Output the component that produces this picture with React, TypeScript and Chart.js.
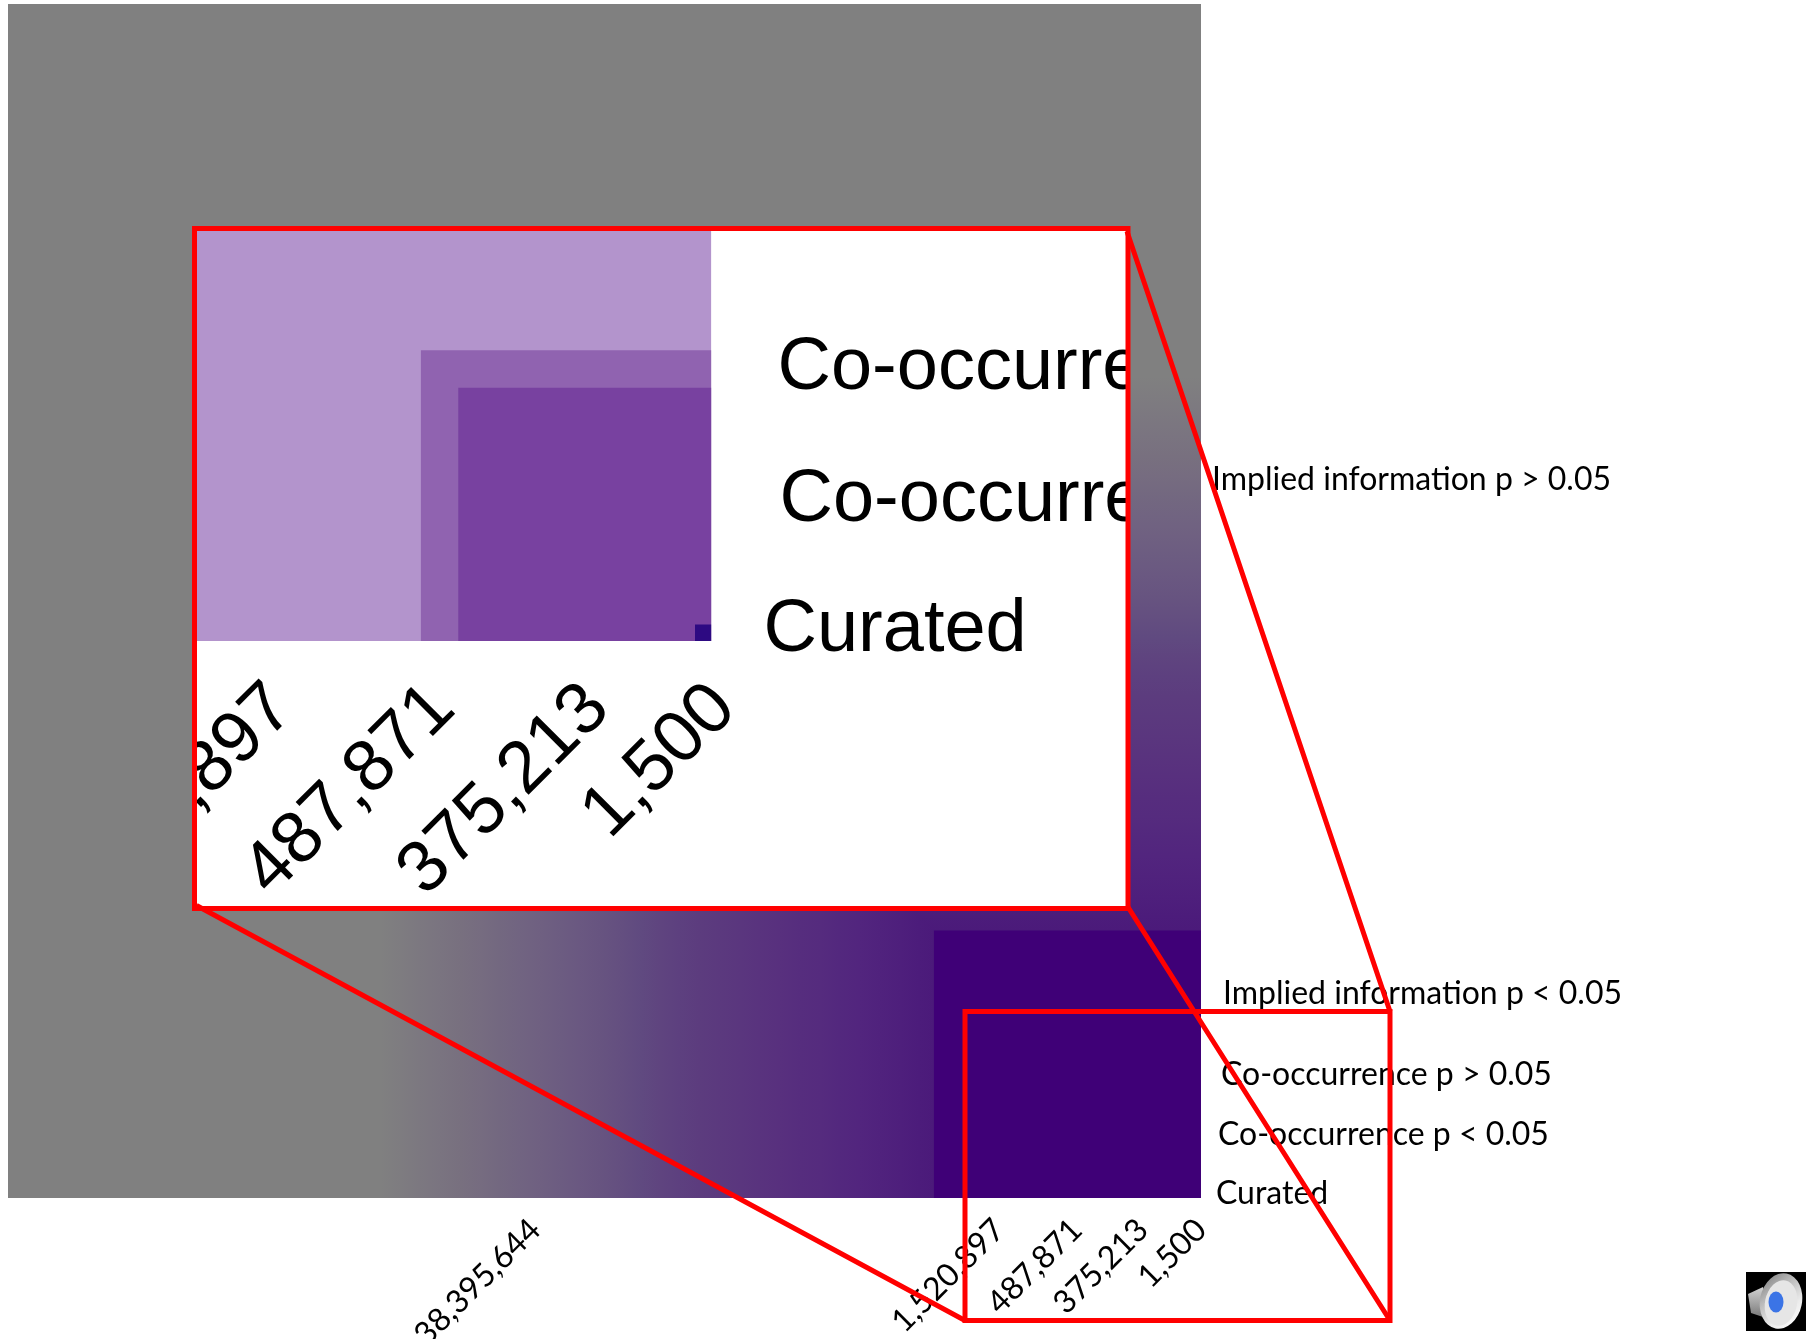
import React, { useEffect, useRef } from "react";
import { Chart, registerables } from "chart.js";

Chart.register(...registerables);

// ---------- data (square side, % of the main plot's side) ----------
const outerSide = 100;
const outerColor = "#808080";
const fadeSides = [68.8, 67.1, 65.5, 63.8, 62.1, 60.4, 58.8, 57.1, 55.4, 53.7, 52.1, 50.4, 48.7, 47.0, 45.3, 43.7, 42.0, 40.3, 38.6, 37.0, 35.3, 33.6, 31.9, 30.3, 28.6, 26.9, 25.2, 23.6, 22.4];
const fadeColors = ["#808080", "#7e7c80", "#7c7880", "#7a7480", "#78707f", "#766c80", "#736880", "#716481", "#6f6081", "#6c5c81", "#6a5881", "#675480", "#644f80", "#604a80", "#5f447f", "#5d407f", "#5c3c7e", "#5b397e", "#5a367e", "#59337e", "#58307e", "#562d7e", "#552b7e", "#53287e", "#52257e", "#50227d", "#4e1f7c", "#4c1c7b", "#4b1a7a"];
const coreSide = 22.4;
const coreColor = "#3f0077";
const insetSides = [22.4, 11.1, 9.67, 0.63];
const insetColors = ["#b394cc", "#9063b0", "#7841a0", "#2d0a82"];

const xLabels = ["38,395,644", "1,520,897", "487,871", "375,213", "1,500"];
const xTickValues = [55.8, 16.9, 10.4, 4.87, 0];
const yLabels = ["Implied information p > 0.05", "Implied information p < 0.05", "Co-occurrence p > 0.05", "Co-occurrence p < 0.05", "Curated"];
const yTickValues = [60.18, 17.08, 10.3, 5.27, 0.38];

const insetXLabels = [",897", "487,871", "375,213", "1,500"];
const insetXTickValues = [16.87, 10.73, 4.83, 0];
const insetYLabels = ["Co-occurre", "Co-occurre", "Curated"];
const insetYTickValues = [10.4, 5.36, 0.4];

// ---------- layout ----------
const W = 1806;
const H = 1339;
const MAIN = { left: 8, top: 4, right: 1201, bottom: 1198 };
const INSET = { left: 197, top: 231, right: 711.5, bottom: 641 };
const INSET_UNIT = 26.2;
const PANEL = { left: 194.5, top: 228.5, right: 1128, bottom: 908.5 };
const ZOOM = { left: 965, top: 1011.5, right: 1390, bottom: 1320.5 };
const mainYNudge = [0, 11, 9, 6, 4];
const insetYNudge = [14, 16, 0];

const square = (s: number, color: any) => ({
  type: "line" as const,
  data: [
    { x: s, y: s },
    { x: 0, y: s },
  ],
  fill: "origin",
  backgroundColor: color,
  borderWidth: 0,
  pointRadius: 0,
  tension: 0,
});

const squares = (sides: number[], colors: string[]) =>
  sides.map((s, i) => ({ ...square(s, colors[i]), order: -i }));

// Colour fade along one axis, with the stops
const fade = (axis: "x" | "y") => (context: any) => {
  const { chart } = context;
  const scale = chart.scales[axis];
  if (!chart.chartArea || !scale) return fadeColors[0];
  const from = scale.getPixelForValue(fadeSides[0]);
  const to = scale.getPixelForValue(fadeSides[fadeSides.length - 1]);
  const g =
    axis === "x"
      ? chart.ctx.createLinearGradient(from, 0, to, 0)
      : chart.ctx.createLinearGradient(0, from, 0, to);
  const span = fadeSides[0] - fadeSides[fadeSides.length - 1];
  fadeSides.forEach((s, i) => g.addColorStop((fadeSides[0] - s) / span, fadeColors[i]));
  return g;
};

const diagonal = (s: number) => [
  { x: s, y: s },
  { x: 0, y: 0 },
];

const mainDatasets = () => [
  { ...square(outerSide, outerColor), order: 0 },
  { ...square(fadeSides[0], fade("y")), data: diagonal(fadeSides[0]), fill: "end", order: -1 },
  {
    ...square(fadeSides[0], fade("x")),
    data: diagonal(fadeSides[0]),
    fill: "origin",
    borderWidth: 2,
    borderColor: fade("x"),
    order: -2,
  },
  { ...square(coreSide, coreColor), order: -3 },
];

const nudge = (id: string, dx: number[]) => ({
  id,
  beforeDraw(chart: any) {
    const s = chart.scales.y;
    if (s.__nudged) return;
    const orig = s._computeLabelItems.bind(s);
    s._computeLabelItems = (a: any) => {
      const items = orig(a);
      items.forEach((it: any, i: number) => {
        it.options.translation[0] += dx[i] || 0;
      });
      return items;
    };
    s._labelItems = null;
    s.__nudged = true;
  },
});

const scalesFor = (o: {
  xMax: number; yMax: number; xT: number[]; xL: string[]; yT: number[]; yL: string[];
  xH: number; yW: number; xFont: any; yFont: any; xPad: number; yPad: number; xOff: number;
}) => ({
  x: {
    type: "linear" as const,
    reverse: true,
    min: 0,
    max: o.xMax,
    afterBuildTicks: (s: any) => { s.ticks = o.xT.map((value) => ({ value })); },
    afterFit: (s: any) => { s.height = o.xH; s.paddingLeft = 0; s.paddingRight = 0; },
    grid: { display: false, drawTicks: false },
    border: { display: false },
    ticks: {
      autoSkip: false, minRotation: 45, maxRotation: 45, color: "#000", font: o.xFont,
      padding: o.xPad, labelOffset: o.xOff,
      callback: (_: any, i: number) => o.xL[i],
    },
  },
  y: {
    type: "linear" as const,
    position: "right" as const,
    min: 0,
    max: o.yMax,
    afterBuildTicks: (s: any) => { s.ticks = o.yT.map((value) => ({ value })); },
    afterFit: (s: any) => { s.width = o.yW; s.paddingTop = 0; s.paddingBottom = 0; },
    grid: { display: false, drawTicks: false },
    border: { display: false },
    ticks: {
      autoSkip: false, color: "#000", font: o.yFont, padding: o.yPad,
      callback: (_: any, i: number) => o.yL[i],
    },
  },
});

const speaker = {
  id: "speaker",
  afterDraw(chart: any) {
    const c = chart.ctx as CanvasRenderingContext2D;
    c.save();
    c.fillStyle = "#000";
    c.fillRect(1746, 1272, 60, 59);
    const b = c.createLinearGradient(0, 1288, 0, 1320);
    b.addColorStop(0, "#d0d0d0");
    b.addColorStop(1, "#707070");
    c.fillStyle = b;
    c.beginPath();
    c.moveTo(1748, 1294);
    c.lineTo(1763, 1287);
    c.lineTo(1772, 1320);
    c.lineTo(1751, 1313);
    c.closePath();
    c.fill();
    const g = c.createLinearGradient(1758, 1276, 1800, 1326);
    g.addColorStop(0, "#777777");
    g.addColorStop(0.35, "#b8b8b8");
    g.addColorStop(0.7, "#ececec");
    g.addColorStop(1, "#ffffff");
    c.fillStyle = g;
    c.beginPath();
    c.ellipse(1781, 1301, 21, 28, 0.2, 0, Math.PI * 2);
    c.fill();
    c.fillStyle = "#e6e6e6";
    c.beginPath();
    c.ellipse(1781, 1303, 16, 23, 0.2, 0, Math.PI * 2);
    c.fill();
    c.fillStyle = "#3b74e6";
    c.beginPath();
    c.ellipse(1776, 1302, 7.5, 10.5, 0, 0, Math.PI * 2);
    c.fill();
    c.restore();
  },
};

const panelAndFrame = {
  id: "panelAndFrame",
  beforeDraw(chart: any) {
    const c = chart.ctx as CanvasRenderingContext2D;
    c.save();
    c.fillStyle = "#fff";
    c.fillRect(PANEL.left, PANEL.top, PANEL.right - PANEL.left, PANEL.bottom - PANEL.top);
    c.beginPath();
    c.rect(PANEL.left, PANEL.top, PANEL.right - PANEL.left, PANEL.bottom - PANEL.top);
    c.clip();
  },
  afterDraw(chart: any) {
    const c = chart.ctx as CanvasRenderingContext2D;
    c.restore();
    c.save();
    c.strokeStyle = "#ff0000";
    c.lineWidth = 5;
    c.strokeRect(PANEL.left, PANEL.top, PANEL.right - PANEL.left, PANEL.bottom - PANEL.top);
    c.strokeRect(ZOOM.left, ZOOM.top, ZOOM.right - ZOOM.left, ZOOM.bottom - ZOOM.top);
    const lines = [
      [PANEL.right - 1, PANEL.top + 3, ZOOM.right, ZOOM.top],
      [PANEL.right - 1, PANEL.bottom - 3, ZOOM.right, ZOOM.bottom],
      [PANEL.left + 2, PANEL.bottom - 3, ZOOM.left, ZOOM.bottom],
    ];
    c.beginPath();
    lines.forEach(([a, b, d, e]) => {
      c.moveTo(a, b);
      c.lineTo(d, e);
    });
    c.stroke();
    c.restore();
  },
};

export default function App() {
  const mainRef = useRef<HTMLCanvasElement>(null);
  const insetRef = useRef<HTMLCanvasElement>(null);

  useEffect(() => {
    document.body.style.margin = "0";
    document.body.style.overflow = "hidden";
    const main = new Chart(mainRef.current!, {
      type: "line",
      data: { datasets: mainDatasets() as any },
      options: {
        animation: false,
        responsive: false,
        devicePixelRatio: 1,
        layout: { autoPadding: false, padding: { left: MAIN.left, top: MAIN.top, right: 0, bottom: 0 } },
        plugins: { legend: { display: false }, tooltip: { enabled: false } },
        scales: scalesFor({
          xMax: 100, yMax: 100, xT: xTickValues, xL: xLabels, yT: yTickValues, yL: yLabels,
          xH: H - MAIN.bottom, yW: W - MAIN.right,
          xFont: { family: "Lato", size: 32 }, yFont: { family: "Lato", size: 32 },
          xPad: 13, yPad: 11, xOff: 0,
        }) as any,
      },
      plugins: [nudge("mainNudge", mainYNudge), speaker],
    });
    const inset = new Chart(insetRef.current!, {
      type: "line",
      data: { datasets: squares(insetSides, insetColors) as any },
      options: {
        animation: false,
        responsive: false,
        devicePixelRatio: 1,
        layout: { autoPadding: false, padding: { left: INSET.left, top: INSET.top, right: 0, bottom: 0 } },
        plugins: { legend: { display: false }, tooltip: { enabled: false } },
        scales: scalesFor({
          xMax: (INSET.right - INSET.left) / INSET_UNIT,
          yMax: (INSET.bottom - INSET.top) / INSET_UNIT,
          xT: insetXTickValues, xL: insetXLabels, yT: insetYTickValues, yL: insetYLabels,
          xH: H - INSET.bottom, yW: W - INSET.right,
          xFont: { family: "Liberation Sans", size: 73 }, yFont: { family: "Liberation Sans", size: 74 },
          xPad: 25, yPad: 52, xOff: 13,
        }) as any,
      },
      plugins: [panelAndFrame, nudge("insetNudge", insetYNudge)],
    });
    return () => {
      main.destroy();
      inset.destroy();
    };
  }, []);

  return (
    <div style={{ position: "relative", width: W, height: H, overflow: "hidden", background: "#fff" }}>
      <canvas ref={mainRef} width={W} height={H} style={{ position: "absolute", left: 0, top: 0 }} />
      <canvas ref={insetRef} width={W} height={H} style={{ position: "absolute", left: 0, top: 0 }} />
    </div>
  );
}
